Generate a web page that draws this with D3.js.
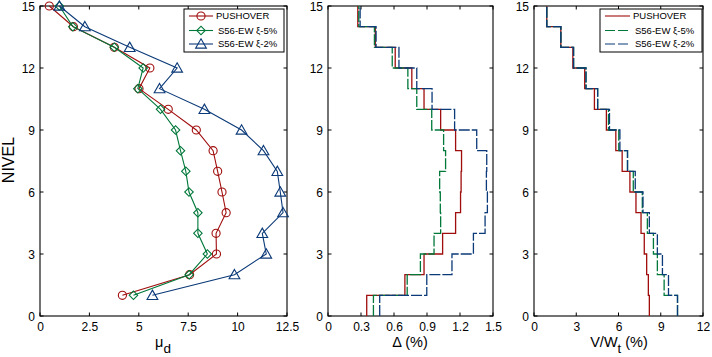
<!DOCTYPE html>
<html><head><meta charset="utf-8">
<script src="https://cdn.jsdelivr.net/npm/d3@7"></script>
<style>body{margin:0;background:#fff}svg{display:block}text{font-family:"Liberation Sans",Arial,sans-serif;fill:#000}</style>
</head><body>
<script>
// levels (story number, bottom to top)
const levels = [1,2,3,4,5,6,7,8,9,10,11,12,13,14,15];
const seriesNames = ["PUSHOVER","S56-EW \u03BE-5%","S56-EW \u03BE-2%"];
const colors = ["#a00d0d","#00783a","#0b3a78"];
// panel 1: ductility demand mu_d
const muPush = [4.17,7.57,8.93,8.91,9.42,9.21,8.99,8.76,7.91,6.49,5.01,5.56,3.76,1.69,0.47];
const muS5   = [4.73,7.55,8.47,7.99,7.99,7.54,7.38,7.11,6.86,6.10,4.95,5.22,3.76,1.66,0.98];
const muS2   = [5.69,9.84,11.45,11.25,12.30,12.16,12.01,11.31,10.20,8.32,6.05,6.94,4.54,2.27,0.98];
// panel 2: interstory drift (%)
const driftPush = [0.352,0.699,0.873,1.042,1.160,1.205,1.210,1.214,1.160,1.024,0.873,0.762,0.611,0.430,0.271];
const driftS5   = [0.413,0.720,0.840,0.964,1.024,1.021,1.015,1.069,1.051,0.943,0.807,0.726,0.584,0.422,0.280];
const driftS2   = [0.470,0.898,1.127,1.322,1.428,1.449,1.440,1.443,1.352,1.151,0.946,0.807,0.645,0.437,0.292];
// panel 3: story shear V/Wt (%)
const shearPush = [8.19,8.12,8.00,7.83,7.60,7.24,6.81,6.26,5.81,5.14,4.29,3.60,2.76,1.905,0.905];
const shearS5   = [10.19,9.24,8.76,8.48,8.05,7.69,7.05,6.64,6.02,5.29,4.52,3.69,2.81,1.905,0.905];
const shearS2   = [10.19,9.55,9.12,8.76,8.19,7.74,7.19,6.64,6.10,5.36,4.52,3.69,2.81,1.905,0.905];
// ticks
const yTicks = [0,3,6,9,12,15];
const xTicks1 = [0,2.5,5,7.5,10,12.5];
const xTicks2 = [0,0.3,0.6,0.9,1.2,1.5];
const xTicks3 = [0,3,6,9,12];

const W=712,H=357, yTop=6, yBot=316;
const svg = d3.select("body").append("svg").attr("width",W).attr("height",H);
const y = d3.scaleLinear().domain([0,15]).range([yBot,yTop]);

function panel(x0,x1,domain,xt,fmt){
  const x = d3.scaleLinear().domain(domain).range([x0,x1]);
  const g = svg.append("g");
  const tl=3.5;
  const ax = d3.axisBottom(x).tickValues(xt).tickSize(0).tickPadding(5).tickFormat(fmt);
  const gx = g.append("g").attr("transform",`translate(0,${yBot})`).call(ax);
  gx.select(".domain").remove();
  gx.selectAll("text").style("font-size","12px").attr("dy","0.85em");
  const ay = d3.axisLeft(y).tickValues(yTicks).tickSize(0).tickPadding(5).tickFormat(d3.format("d"));
  const gy = g.append("g").attr("transform",`translate(${x0},0)`).call(ay);
  gy.select(".domain").remove();
  gy.selectAll("text").style("font-size","12px").attr("dy","0.36em");
  // inward ticks, mirrored
  xt.forEach(v=>{
    g.append("line").attr("x1",x(v)).attr("x2",x(v)).attr("y1",yBot).attr("y2",yBot-tl).attr("stroke","#000");
    g.append("line").attr("x1",x(v)).attr("x2",x(v)).attr("y1",yTop).attr("y2",yTop+tl).attr("stroke","#000");
  });
  yTicks.forEach(v=>{
    g.append("line").attr("x1",x0).attr("x2",x0+tl).attr("y1",y(v)).attr("y2",y(v)).attr("stroke","#000");
    g.append("line").attr("x1",x1).attr("x2",x1-tl).attr("y1",y(v)).attr("y2",y(v)).attr("stroke","#000");
  });
  g.append("rect").attr("x",x0).attr("y",yTop).attr("width",x1-x0).attr("height",yBot-yTop)
    .attr("fill","none").attr("stroke","#000").attr("stroke-width",1.1);
  return {x,g};
}

// Panel 1
const p1 = panel(40,287,[0,12.5],xTicks1,d=>d3.format("")(d));
const lineP = d3.line().x(d=>p1.x(d[0])).y(d=>y(d[1]));
const muSets=[muPush,muS5,muS2];
const sym=[d3.symbolCircle,d3.symbolSquare,d3.symbolTriangle];
const symSize=[52,36,50];
const symXf=[""," rotate(45)",""];
const symDy=[0,0,1];
muSets.forEach((arr,i)=>{
  const pts = arr.map((v,k)=>[v,levels[k]]);
  p1.g.append("path").attr("d",lineP(pts)).attr("fill","none").attr("stroke",colors[i]).attr("stroke-width",1.1);
  p1.g.selectAll(null).data(pts).enter().append("path")
    .attr("d",d3.symbol().type(sym[i]).size(symSize[i]))
    .attr("transform",d=>`translate(${p1.x(d[0])},${y(d[1])+symDy[i]})${symXf[i]}`)
    .attr("fill","none").attr("stroke",colors[i]).attr("stroke-width",1.1);
});
// legend
function legend(x0,y0,w,h,markers,dashes,lx0,lx1,tx){
  const lg = svg.append("g");
  lg.append("rect").attr("x",x0).attr("y",y0).attr("width",w).attr("height",h).attr("fill","#fff").attr("stroke","#000").attr("stroke-width",1);
  const rows=[16,30.5,44];
  seriesNames.forEach((n,i)=>{
    lg.append("line").attr("x1",lx0).attr("x2",lx1).attr("y1",rows[i]).attr("y2",rows[i]).attr("stroke",colors[i]).attr("stroke-width",1.1)
      .attr("stroke-dasharray",dashes?dashes[i]:null);
    if(markers){
      lg.append("path").attr("d",d3.symbol().type(sym[i]).size(symSize[i]))
        .attr("transform",`translate(${(lx0+lx1)/2},${rows[i]+symDy[i]})${symXf[i]}`)
        .attr("fill","none").attr("stroke",colors[i]).attr("stroke-width",1.1);
    }
    lg.append("text").attr("x",tx+(i>0?2:0)).attr("y",rows[i]).attr("dy","0.35em").style("font-size","9.5px").text(n);
  });
}
legend(184,9,100,43,true,null,189,213,216);

// Panel 2: stairs
const dash=[null,"11,2","11,2"];
function stairs(p,arr){
  const pts=[[arr[0],0]];
  arr.forEach((v,k)=>{ pts.push([v,levels[k]]); if(k<arr.length-1) pts.push([arr[k+1],levels[k]]); });
  return d3.line().x(d=>p.x(d[0])).y(d=>y(d[1]))(pts);
}
const p2 = panel(328,493,[0,1.5],xTicks2,d=>d===0?"0":d3.format(".1f")(d));
[driftPush,driftS5,driftS2].forEach((arr,i)=>{
  p2.g.append("path").attr("d",stairs(p2,arr)).attr("fill","none").attr("stroke",colors[i]).attr("stroke-width",1.3).attr("stroke-dasharray",dash[i]);
});
// Panel 3
const p3 = panel(534,703,[0,12],xTicks3,d3.format("d"));
[shearPush,shearS5,shearS2].forEach((arr,i)=>{
  p3.g.append("path").attr("d",stairs(p3,arr)).attr("fill","none").attr("stroke",colors[i]).attr("stroke-width",1.3).attr("stroke-dasharray",dash[i]);
});
legend(600,9,102,43,false,["", "10,3","10,3"],605,630,633);

// Axis labels
svg.append("text").attr("transform","translate(14,160) rotate(-90)").attr("text-anchor","middle").style("font-size","16px").text("NIVEL");
const t1=svg.append("text").attr("x",163).attr("y",346.5).attr("text-anchor","middle").style("font-size","14.5px");
t1.append("tspan").text("\u03BC");
t1.append("tspan").attr("dy",6).style("font-size","13.5px").text("d");
svg.append("text").attr("x",410).attr("y",346.5).attr("text-anchor","middle").style("font-size","14.5px").text("\u0394 (%)");
const t3=svg.append("text").attr("x",619).attr("y",346.5).attr("text-anchor","middle").style("font-size","14.5px");
t3.append("tspan").text("V/W");
t3.append("tspan").attr("dy",6).style("font-size","13px").text("t");
t3.append("tspan").attr("dy",-6).text(" (%)");
</script>
</body></html>
